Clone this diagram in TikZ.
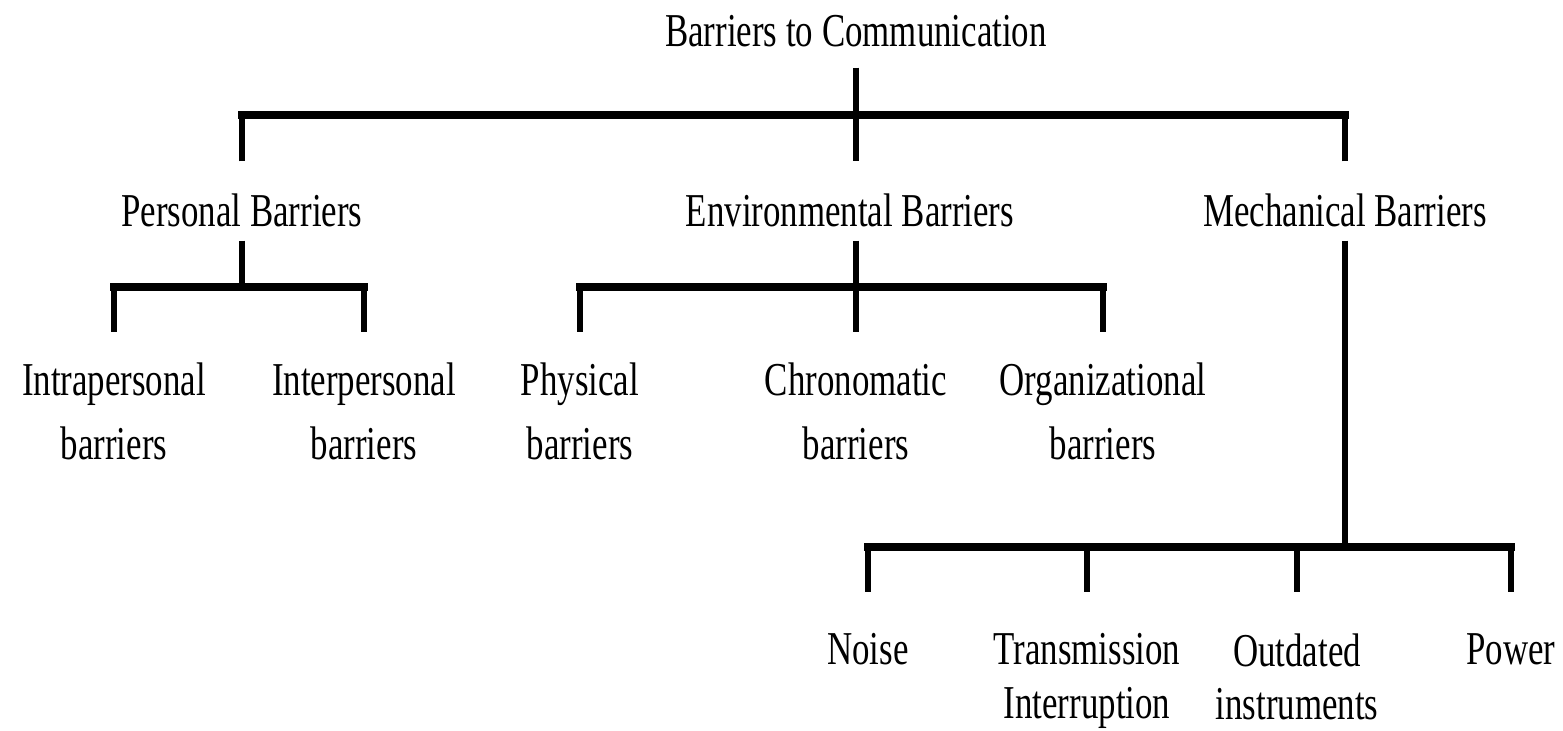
\documentclass[tikz,border=0pt]{standalone}
\usepackage{fontspec}
\setmainfont[FakeStretch=0.74]{Liberation Serif}
\tikzset{
  lbl/.style={inner sep=0pt, font=\fontsize{13.4}{18.2}\selectfont},
  head/.style={lbl, anchor=base, text height=0.65cm, text depth=0.13cm},
  leaf/.style={lbl, anchor=north, inner ysep=0.3cm, align=center},
  low/.style={leaf, inner ysep=0.41cm, font=\fontsize{13.4}{15.1}\selectfont},
  leg/.style={line width=1.45pt},
  bus/.style={line width=2.3pt, line cap=rect}
}
\begin{document}
\begin{tikzpicture}[x=0.01cm, y=-0.01cm]
  \path[fill=white, use as bounding box] (0,0) rectangle (1563,731);
  % root and first level
  \node[lbl, anchor=base, text depth=0.2cm] (top) at (856,47) {Barriers to Communication};
  \node[head] (pers) at (242,227) {Personal Barriers};
  \node[head] (env) at (850,227) {Environmental Barriers};
  \node[head] (mech) at (1345,227) {Mechanical Barriers};
  % leaves
  \node[leaf] (intra) at (114,332) {Intrapersonal\\barriers};
  \node[leaf] (inter) at (364,332) {Interpersonal\\barriers};
  \node[leaf] (phys) at (580,332) {Physical\\barriers};
  \node[leaf] (chr) at (856,332) {Chronomatic\\barriers};
  \node[leaf] (org) at (1103,332) {Organizational\\barriers};
  \node[low] (noise) at (868,592) {Noise};
  \node[low] (trans) at (1087,592) {Transmission\\Interruption};
  \node[low] (outd) at (1297,592) {Outdated\\instruments};
  \node[low] (power) at (1511,592) {Power};
  % bus levels
  \coordinate (b1) at (0,115);
  \coordinate (b2) at (0,287);
  \coordinate (b3) at (0,547);
  \draw[bus] (pers.north |- b1) -- (mech.north |- b1);
  \draw[bus] (intra.north |- b2) -- (inter.north |- b2);
  \draw[bus] (phys.north |- b2) -- (org.north |- b2);
  \draw[bus] (noise.north |- b3) -- (power.north |- b3);
  \draw[leg] (top.south) -- (top.south |- env.north);
  \foreach \n in {pers,mech}
    \draw[leg] (\n.north) -- (\n.north |- b1);
  \draw[leg] (pers.south) -- (pers.south |- b2);
  \draw[leg] (env.south -| chr.north) -- (chr.north);
  \draw[leg] (mech.south) -- (mech.south |- b3);
  \foreach \n in {intra,inter,phys,org}
    \draw[leg] (\n.north) -- (\n.north |- b2);
  \foreach \n in {noise,trans,outd,power}
    \draw[leg] (\n.north) -- (\n.north |- b3);
\end{tikzpicture}
\end{document}
